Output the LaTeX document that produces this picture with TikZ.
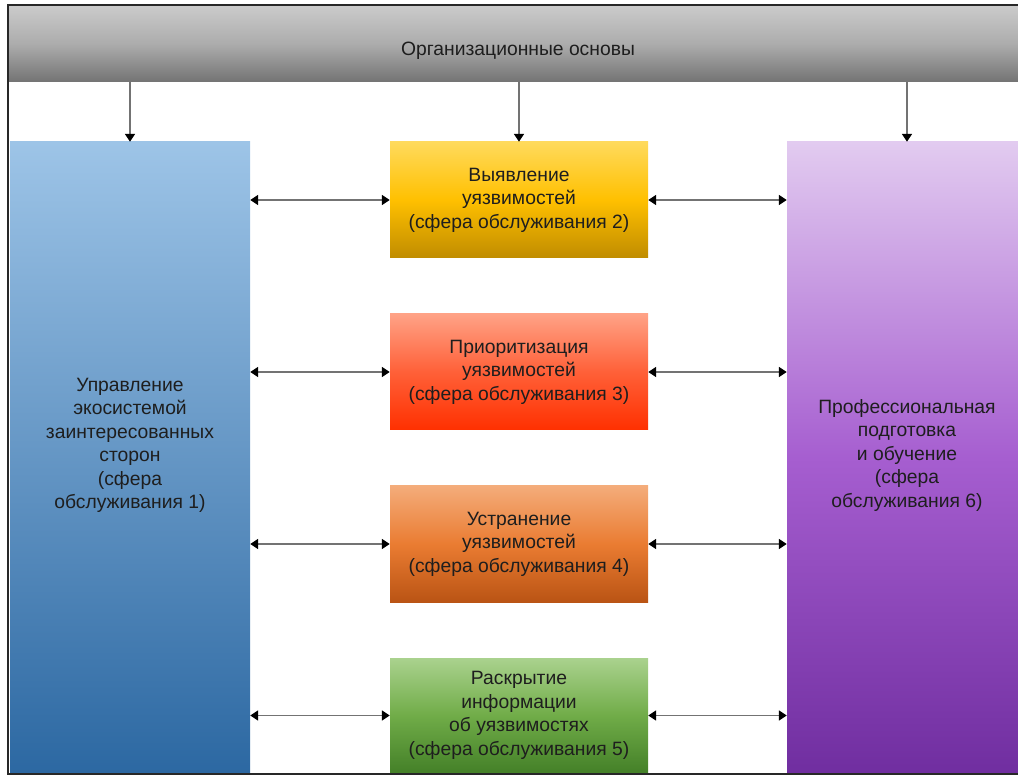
\documentclass[tikz,border=0pt]{standalone}
\usepackage{fontspec}
\setmainfont{Liberation Sans}
\usetikzlibrary{arrows.meta}
\definecolor{txt}{RGB}{30,30,30}
\definecolor{lineg}{RGB}{115,115,115}
\tikzset{
  lbl/.style={align=center, text=txt, font=\fontsize{19.3}{23.5}\selectfont},
  panel/.style={rectangle, inner sep=0pt, draw=none},
  downarr/.style={draw=lineg, line width=1.7pt, -{Triangle[width=10pt,length=8pt,color=black]}},
  duoarr/.style={draw=lineg, line width=1.7pt, {Triangle[width=10pt,length=8pt,color=black]}-{Triangle[width=10pt,length=8pt,color=black]}},
}
\begin{document}
\begin{tikzpicture}[x=1pt,y=-1pt]
\useasboundingbox (0,0) rectangle (1018,775);
% top bar
\node[panel, minimum width=1020pt, minimum height=75pt, top color={rgb,255:red,202;green,202;blue,202}, bottom color={rgb,255:red,116;green,116;blue,116}, middle color={rgb,255:red,172;green,172;blue,172}] (top) at (518,44) {};
\node[lbl] (toptxt) at ([yshift=-7pt]top.center) {Организационные основы};
% side panels
\node[panel, minimum width=240pt, minimum height=631pt, top color={rgb,255:red,157;green,196;blue,231}, bottom color={rgb,255:red,44;green,104;blue,162}] (L) at (130,457.5) {};
\node[lbl] (Ltxt) at ([yshift=12pt]L.center) {Управление\\экосистемой\\заинтересованных\\сторон\\(сфера\\обслуживания 1)};
\node[panel, minimum width=240pt, minimum height=631pt, top color={rgb,255:red,226;green,203;blue,240}, bottom color={rgb,255:red,112;green,46;blue,160}, middle color={rgb,255:red,166;green,94;blue,208}] (R) at (907,457.5) {};
\node[lbl] (Rtxt) at ([yshift=2pt]R.center) {Профессиональная\\подготовка\\и обучение\\(сфера\\обслуживания 6)};
% middle boxes
\node[panel, lbl, minimum width=258pt, minimum height=116pt, top color={rgb,255:red,255;green,218;blue,92}, bottom color={rgb,255:red,192;green,140;blue,0}, middle color={rgb,255:red,255;green,192;blue,0}] (m2) at (519,200) {Выявление\\уязвимостей\\(сфера обслуживания 2)};
\node[panel, lbl, minimum width=258pt, minimum height=116pt, top color={rgb,255:red,255;green,162;blue,134}, bottom color={rgb,255:red,255;green,48;blue,0}, middle color={rgb,255:red,255;green,96;blue,56}] (m3) at (519,372) {Приоритизация\\уязвимостей\\(сфера обслуживания 3)};
\node[panel, lbl, minimum width=258pt, minimum height=116pt, top color={rgb,255:red,244;green,172;blue,122}, bottom color={rgb,255:red,186;green,84;blue,20}, middle color={rgb,255:red,234;green,124;blue,50}] (m4) at (519,544) {Устранение\\уязвимостей\\(сфера обслуживания 4)};
\node[panel, lbl, minimum width=258pt, minimum height=115pt, top color={rgb,255:red,170;green,210;blue,142}, bottom color={rgb,255:red,68;green,128;blue,40}, middle color={rgb,255:red,112;green,172;blue,72}] (m5) at (519,715.5) {Раскрытие\\информации\\об уязвимостях\\(сфера обслуживания 5)};
% frame
\draw[line width=2pt, draw={rgb,255:red,40;green,40;blue,40}] (1030,5) -- (8,5) -- (8,773.5) -- (1030,773.5);
% down arrows
\draw[downarr] (top.south -| L.north) -- (L.north);
\draw[downarr] (top.south -| m2.north) -- (m2.north);
\draw[downarr] (top.south -| R.north) -- (R.north);
% horizontal arrows
\foreach \m in {m2,m3,m4,m5}{
  \draw[duoarr] (L.east |- \m.west) -- (\m.west);
  \draw[duoarr] (\m.east) -- (R.west |- \m.east);
}
\end{tikzpicture}
\end{document}
